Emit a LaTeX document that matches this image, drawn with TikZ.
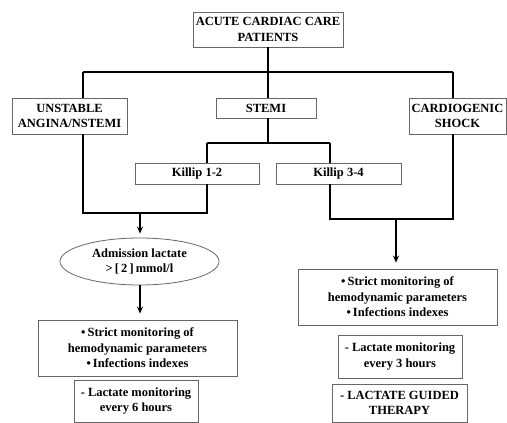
\documentclass[tikz,border=0pt]{standalone}
\usepackage{fontspec}
\setmainfont{Liberation Serif}
\usetikzlibrary{shapes.geometric,arrows.meta}
\begin{document}
\begin{tikzpicture}[x=1pt,y=-1pt,
 box/.style={draw=black!60,line width=0.8pt,fill=white,align=center,
   font=\fontsize{12.5}{15.5}\selectfont\bfseries,inner sep=0pt},
 link/.style={line width=1.4pt,black},
 arr/.style={link,-{Stealth[length=7pt,width=6pt]}}]
\useasboundingbox (0,0) rectangle (507,423);
% nodes
\node[box,minimum width=150pt,minimum height=35pt] (top) at (268,29.5) {ACUTE CARDIAC CARE\\PATIENTS};
\node[box,minimum width=115pt,minimum height=36pt] (uns) at (69.5,116) {UNSTABLE\\ANGINA/NSTEMI};
\node[box,minimum width=100pt,minimum height=20pt] (stemi) at (266,108) {STEMI};
\node[box,minimum width=97pt,minimum height=36pt] (cardio) at (457.5,116) {CARDIOGENIC\\SHOCK};
\node[box,minimum width=124pt,minimum height=21pt] (k12) at (197,173.5) {Killip 1-2};
\node[box,minimum width=125pt,minimum height=21pt] (k34) at (338.5,173.5) {Killip 3-4};
\node[box,ellipse,minimum width=159pt,minimum height=47pt] (ell) at (139.5,261.5) {Admission lactate\\>\,[\,2\,]\,mmol/l};
\node[box,minimum width=199pt,minimum height=56pt] (rb1) at (397.5,297) {•\,Strict monitoring of\\hemodynamic parameters\\•\,Infections indexes};
\node[box,minimum width=199pt,minimum height=56pt] (lb1) at (137.5,348) {•\,Strict monitoring of\\hemodynamic parameters\\•\,Infections indexes};
\node[box,minimum width=124pt,minimum height=42pt] (lb2) at (136,401) {- Lactate monitoring\\every 6 hours};
\node[box,minimum width=124pt,minimum height=43pt] (rb2) at (400,356.5) {- Lactate monitoring\\every 3 hours};
\node[box,minimum width=135pt,minimum height=38pt] (rb3) at (399.5,403) {- LACTATE GUIDED\\THERAPY};
% junction coordinates
\coordinate (j0) at (268,72);
\coordinate (jl) at (83,72);
\coordinate (jr) at (453,72);
\coordinate (js) at (268,143);
\coordinate (jsl) at (207,143);
\coordinate (jsr) at (330,143);
\coordinate (jbl) at (83,213);
\coordinate (jbk) at (207,213);
\coordinate (jal) at (140,213);
\coordinate (jbr) at (453,219);
\coordinate (jbk2) at (330,219);
\coordinate (jar) at (396,219);
% connectors
\draw[link] (top.south) -- (j0);
\draw[link] (jl) -- (jr);
\draw[link] (jl) -- (uns.north -| jl);
\draw[link] (jr) -- (cardio.north -| jr);
\draw[link] (j0) -- (stemi.north -| j0);
\draw[link] (stemi.south -| js) -- (js);
\draw[link] (jsl) -- (jsr);
\draw[link] (jsl) -- (k12.north -| jsl);
\draw[link] (jsr) -- (k34.north -| jsr);
\draw[link] (uns.south -| jbl) -- (jbl) -- (jbk) -- (k12.south -| jbk);
\draw[link] (cardio.south -| jbr) -- (jbr) -- (jbk2) -- (k34.south -| jbk2);
\draw[arr,shorten >=4pt] (jal) -- (ell.north -| jal);
\draw[arr,shorten >=6pt] (jar) -- (rb1.north -| jar);
\draw[arr,shorten >=6pt] (ell.south -| jal) -- (lb1.north -| jal);
\end{tikzpicture}
\end{document}
